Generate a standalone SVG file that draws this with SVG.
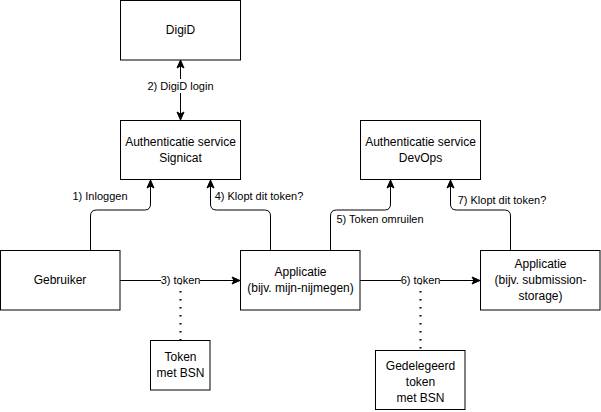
<svg xmlns="http://www.w3.org/2000/svg" width="601" height="412" viewBox="0 0 601 412">
<style>
.box{fill:#fff;stroke:#000;stroke-width:1}
.t{font-family:"Liberation Sans",Arial,Helvetica,sans-serif;font-size:12px;fill:#000;text-anchor:middle}
.l{font-family:"Liberation Sans",Arial,Helvetica,sans-serif;font-size:11px;fill:#000;text-anchor:middle}
.e{fill:none;stroke:#000;stroke-width:1}
.d{fill:none;stroke:#000;stroke-width:2;stroke-dasharray:1.5 6.5}
.bg{fill:#fff}
</style>
<defs>
<marker id="arr" markerUnits="userSpaceOnUse" markerWidth="10" markerHeight="10" viewBox="0 0 10 10" refX="9" refY="5" orient="auto-start-reverse">
<path d="M1,1.5 L9,5 L1,8.5 L3,5 z" fill="#000" stroke="#000" stroke-width="1"/>
</marker>
</defs>
<rect width="601" height="412" fill="#fff"/>
<g id="connectors">
<path class="e" d="M180.5,60 L180.5,120" marker-start="url(#arr)" marker-end="url(#arr)"/>
<path class="e" d="M90.5,250 L90.5,216 Q90.5,210 96.5,210 L144.5,210 Q150.5,210 150.5,204 L150.5,180" marker-end="url(#arr)"/>
<path class="e" d="M270.5,250 L270.5,216 Q270.5,210 264.5,210 L216.5,210 Q210.5,210 210.5,204 L210.5,180" marker-end="url(#arr)"/>
<path class="e" d="M330.5,250 L330.5,216 Q330.5,210 336.5,210 L384.5,210 Q390.5,210 390.5,204 L390.5,180" marker-end="url(#arr)"/>
<path class="e" d="M510.5,250 L510.5,216 Q510.5,210 504.5,210 L456.5,210 Q450.5,210 450.5,204 L450.5,180" marker-end="url(#arr)"/>
<path class="e" d="M120,280.5 L240,280.5" marker-end="url(#arr)"/>
<path class="e" d="M360,280.5 L480,280.5" marker-end="url(#arr)"/>
<path class="d" d="M180.5,283 L180.5,340"/>
<path class="d" d="M420.5,283 L420.5,350"/>
<rect class="bg" x="141" y="79" width="79" height="14"/>
<text class="l" x="180.5" y="90">2) DigiD login</text>
<text class="l" x="100" y="200">1) Inloggen</text>
<text class="l" x="259" y="200">4) Klopt dit token?</text>
<text class="l" x="380" y="223">5) Token omruilen</text>
<text class="l" x="502" y="204">7) Klopt dit token?</text>
<rect class="bg" x="161" y="274" width="39" height="7"/>
<text class="l" x="180.5" y="284">3) token</text>
<rect class="bg" x="401" y="274" width="39" height="7"/>
<text class="l" x="420.5" y="284">6) token</text>
</g>
<g id="digid">
<rect class="box" x="120.5" y="0.5" width="120" height="59.5"/>
<text class="t" x="180.5" y="34">DigiD</text>
</g>
<g id="signicat">
<rect class="box" x="120.5" y="120.5" width="120" height="59"/>
<text class="t" x="180.5" y="146">Authenticatie service</text>
<text class="t" x="180.5" y="162">Signicat</text>
</g>
<g id="devops">
<rect class="box" x="360.5" y="120.5" width="120" height="59"/>
<text class="t" x="420.5" y="146">Authenticatie service</text>
<text class="t" x="420.5" y="162">DevOps</text>
</g>
<g id="gebruiker">
<rect class="box" x="0.5" y="250.5" width="119.5" height="59.5"/>
<text class="t" x="60" y="284">Gebruiker</text>
</g>
<g id="applicatie1">
<rect class="box" x="240.5" y="250.5" width="119.5" height="59.5"/>
<text class="t" x="300.5" y="276">Applicatie</text>
<text class="t" x="300.5" y="292">(bijv. mijn-nijmegen)</text>
</g>
<g id="applicatie2">
<rect class="box" x="480.5" y="250.5" width="119.5" height="59.5"/>
<text class="t" x="540.5" y="268">Applicatie</text>
<text class="t" x="540.5" y="284">(bijv. submission-</text>
<text class="t" x="540.5" y="300">storage)</text>
</g>
<g id="token">
<rect class="box" x="150.5" y="340.5" width="59.5" height="49.5"/>
<text class="t" x="180.5" y="361">Token</text>
<text class="t" x="180.5" y="377">met BSN</text>
</g>
<g id="gedelegeerd">
<rect class="box" x="375.5" y="350.5" width="89.5" height="59"/>
<text class="t" x="420.5" y="370">Gedelegeerd</text>
<text class="t" x="420.5" y="386">token</text>
<text class="t" x="420.5" y="402">met BSN</text>
</g>
</svg>
